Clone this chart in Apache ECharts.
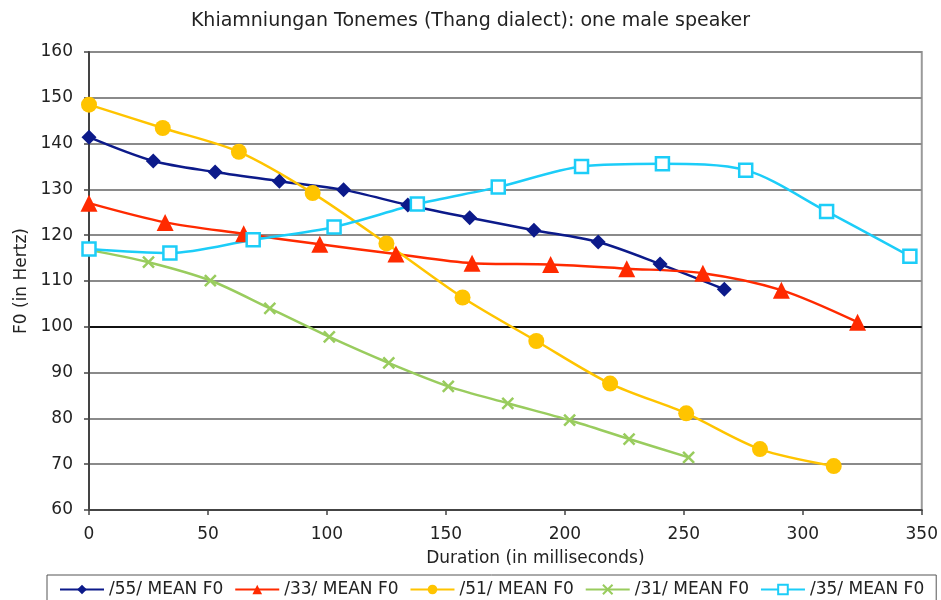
<!DOCTYPE html>
<html>
<head>
<meta charset="utf-8">
<script src="https://cdn.jsdelivr.net/npm/echarts@6/dist/echarts.min.js"></script>
<style>html,body{margin:0;padding:0;background:#fff;}#c{width:941px;height:600px;}</style>
</head>
<body>
<div id="c"></div>
<script>
const seriesNames = ['/55/ MEAN F0', '/33/ MEAN F0', '/51/ MEAN F0', '/31/ MEAN F0', '/35/ MEAN F0'];
const t55 = [0, 27, 53, 80, 107, 134, 160, 187, 214, 240, 267];
const f55 = [141.4, 136.2, 133.8, 131.8, 129.9, 126.6, 123.8, 121.1, 118.5, 113.7, 108.2];
const t33 = [0, 32, 65, 97, 129, 161, 194, 226, 258, 291, 323];
const f33 = [127, 122.8, 120.3, 118.0, 115.9, 113.9, 113.6, 112.7, 111.7, 108.0, 101.0];
const t51 = [0, 31, 63, 94, 125, 157, 188, 219, 251, 282, 313];
const f51 = [148.5, 143.4, 138.2, 129.2, 118.2, 106.4, 96.9, 87.6, 81.1, 73.3, 69.6];
const t31 = [0, 25, 51, 76, 101, 126, 151, 176, 202, 227, 252];
const f31 = [116.8, 114.1, 110.1, 104.0, 97.8, 92.1, 87.0, 83.3, 79.6, 75.5, 71.5];
const t35 = [0, 34, 69, 103, 138, 172, 207, 241, 276, 310, 345];
const f35 = [117.0, 116.1, 119.0, 121.8, 126.8, 130.5, 135.0, 135.6, 134.2, 125.2, 115.4];
const yTicks = [60, 70, 80, 90, 100, 110, 120, 130, 140, 150, 160];

const pair = (xs, ys) => xs.map((x, i) => [x, ys[i]]);
const FONT = 'DejaVu Sans';
const colors = ['#0c1a8a', '#ff2a00', '#ffc400', '#99cc5e', '#1ccdf8'];
const gridColors = yTicks.map(v => v === 100 ? '#111111' : '#8a8a8a');

const chart = echarts.init(document.getElementById('c'), null, {renderer: 'canvas'});
const baseSeries = (name, data, color, symbol, size, extra) => Object.assign({
  name, type: 'line', data, smooth: 0.3, symbol, symbolSize: size,
  lineStyle: {color, width: 2.5},
  itemStyle: {color},
  emphasis: {disabled: true},
  z: 3
}, extra || {});

chart.setOption({
  animation: false,
  backgroundColor: '#ffffff',
  title: {
    text: 'Khiamniungan Tonemes (Thang dialect): one male speaker',
    left: 'center', top: 7,
    textStyle: {fontFamily: FONT, fontSize: 19, fontWeight: 'normal', color: '#222'}
  },
  grid: {left: 89, right: 19, top: 52, bottom: 90, show: true, borderColor: '#9a9a9a', borderWidth: 2},
  legend: {
    data: seriesNames,
    left: 47, top: 575,
    padding: [6, 12, 8, 12],
    itemGap: 11, itemWidth: 44, itemHeight: 12,
    borderColor: '#555', borderWidth: 1,
    textStyle: {fontFamily: FONT, fontSize: 17, color: '#222'}
  },
  xAxis: {
    type: 'value', min: 0, max: 350, interval: 50,
    name: 'Duration (in milliseconds)', nameLocation: 'middle', nameGap: 40,
    nameTextStyle: {fontFamily: FONT, fontSize: 17, color: '#222', padding: [0, 0, 0, 60]},
    axisLine: {show: true, lineStyle: {color: '#444', width: 2}},
    axisTick: {show: true, length: 5, lineStyle: {color: '#444', width: 1.5}},
    axisLabel: {fontFamily: FONT, fontSize: 17, color: '#222', margin: 16},
    splitLine: {show: false}
  },
  yAxis: {
    type: 'value', min: 60, max: 160, interval: 10,
    name: 'F0 (in Hertz)', nameLocation: 'middle', nameGap: 54, nameRotate: 90,
    nameTextStyle: {fontFamily: FONT, fontSize: 17, color: '#222'},
    axisLine: {show: true, lineStyle: {color: '#444', width: 2}},
    axisTick: {show: true, length: 5, lineStyle: {color: '#444', width: 1.5}},
    axisLabel: {fontFamily: FONT, fontSize: 17, color: '#222', margin: 16},
    splitLine: {show: true, lineStyle: {color: gridColors, width: 2}}
  },
  series: [
    baseSeries(seriesNames[0], pair(t55, f55), colors[0], 'diamond', 15),
    baseSeries(seriesNames[1], pair(t33, f33), colors[1], 'triangle', 17),
    baseSeries(seriesNames[2], pair(t51, f51), colors[2], 'circle', 16),
    baseSeries(seriesNames[3], pair(t31, f31), colors[3], 'path://M0,0L10,10M10,0L0,10', 11,
      {itemStyle: {color: colors[3], borderColor: colors[3], borderWidth: 2.5}}),
    baseSeries(seriesNames[4], pair(t35, f35), colors[4], 'rect', 13,
      {itemStyle: {color: '#ffffff', borderColor: colors[4], borderWidth: 2.5}})
  ]
});
</script>
</body>
</html>
